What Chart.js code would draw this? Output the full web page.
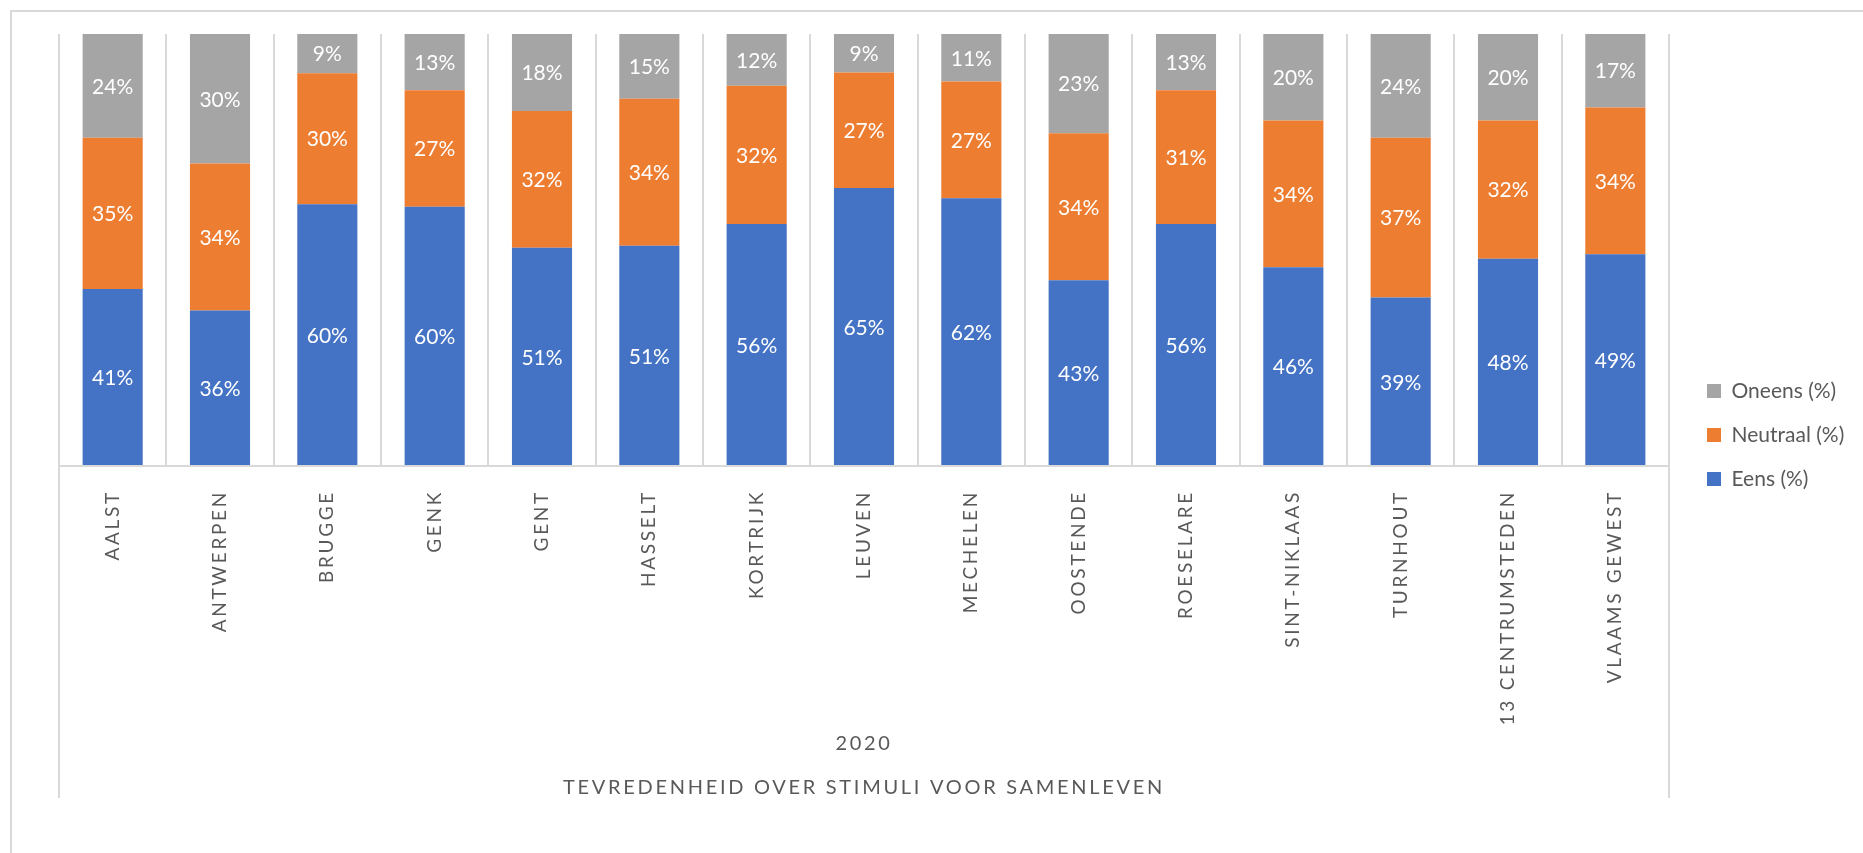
<!DOCTYPE html>
<html>
<head>
<meta charset="utf-8">
<script src="https://cdn.jsdelivr.net/npm/chart.js@4.4.1/dist/chart.umd.min.js"></script>
<style>
  html, body { margin: 0; padding: 0; background: #fff; overflow: hidden; }
  #frame { position: absolute; left: 10px; top: 10px; width: 1900px; height: 900px; border: 2px solid #d9d9d9; box-sizing: border-box; }
  #wrap { position: absolute; left: 0; top: 0; width: 1863px; height: 853px; }
</style>
</head>
<body>
<div id="frame"></div>
<div id="wrap"><canvas id="chart"></canvas></div>
<script>
const categories = [
  'AALST', 'ANTWERPEN', 'BRUGGE', 'GENK', 'GENT', 'HASSELT', 'KORTRIJK', 'LEUVEN',
  'MECHELEN', 'OOSTENDE', 'ROESELARE', 'SINT-NIKLAAS', 'TURNHOUT', '13 CENTRUMSTEDEN', 'VLAAMS GEWEST'
]
const eens = [41, 36, 60, 60, 51, 51, 56, 65, 62, 43, 56, 46, 39, 48, 49]
const neutraal = [35, 34, 30, 27, 32, 34, 32, 27, 27, 34, 31, 34, 37, 32, 34]
const oneens = [24, 30, 9, 13, 18, 15, 12, 9, 11, 23, 13, 20, 24, 20, 17]
const seriesNames = ['Eens (%)', 'Neutraal (%)', 'Oneens (%)']
const seriesColors = ['#4472C4', '#ED7D31', '#A5A5A5']
const axisTitle = ['2020', 'TEVREDENHEID OVER STIMULI VOOR SAMENLEVEN']

const textGray = '#595959'
const lineGray = '#d9d9d9'

// 100% stacked: every column is scaled to its own total
const totals = categories.map((_, i) => eens[i] + neutraal[i] + oneens[i])
const toShare = (values) => values.map((v, i) => (v / totals[i]) * 100)

function buildDataset(values, index) {
  return {
    label: seriesNames[index],
    data: toShare(values),
    rawData: values,
    backgroundColor: seriesColors[index],
    borderWidth: 0,
    barPercentage: 0.56,
    categoryPercentage: 1
  }
}

const segmentLabels = {
  id: 'segmentLabels',
  afterDatasetsDraw(chart) {
    const { ctx } = chart
    ctx.save()
    ctx.letterSpacing = '0px'
    ctx.font = '21px Lato'
    ctx.fillStyle = '#ffffff'
    ctx.textAlign = 'center'
    ctx.textBaseline = 'middle'
    chart.data.datasets.forEach((dataset, di) => {
      chart.getDatasetMeta(di).data.forEach((bar, i) => {
        const { x, y, base } = bar.getProps(['x', 'y', 'base'], true)
        ctx.fillText(`${dataset.rawData[i]}%`, x, (y + base) / 2 + 1)
      })
    })
    ctx.restore()
    // category labels and axis title are drawn after the datasets (z = 1)
    ctx.letterSpacing = '2.7px'
  },
  afterDraw(chart) {
    const { ctx } = chart
    ctx.letterSpacing = '0px'
    const xScale = chart.scales.x
    ctx.save()
    ctx.strokeStyle = lineGray
    ctx.lineWidth = 2
    ctx.beginPath()
    ;[xScale.left, xScale.right].forEach((x) => {
      ctx.moveTo(x, xScale.top)
      ctx.lineTo(x, xScale.bottom - 38)
    })
    ctx.stroke()
    ctx.restore()
  }
}

Chart.defaults.font.family = 'Lato'
Chart.defaults.color = textGray

new Chart(document.getElementById('chart'), {
  type: 'bar',
  data: {
    labels: categories,
    datasets: [buildDataset(eens, 0), buildDataset(neutraal, 1), buildDataset(oneens, 2)]
  },
  plugins: [segmentLabels],
  options: {
    responsive: true,
    maintainAspectRatio: false,
    animation: false,
    layout: { padding: { left: 59, top: 34, right: 11, bottom: 17 } },
    plugins: {
      tooltip: { enabled: false },
      legend: {
        position: 'right',
        reverse: true,
        maxWidth: 168,
        labels: {
          boxWidth: 14,
          boxHeight: 14,
          padding: 23,
          color: textGray,
          font: { size: 21 }
        }
      }
    },
    scales: {
      x: {
        stacked: true,
        afterFit: (scale) => { scale.height = 370 },
        grid: { z: 1, color: lineGray, lineWidth: 2, drawTicks: false },
        border: { z: 1, color: lineGray, width: 2 },
        ticks: {
          z: 1,
          autoSkip: false,
          minRotation: 90,
          maxRotation: 90,
          padding: 24,
          color: textGray,
          font: { size: 19 }
        },
        title: {
          display: true,
          text: axisTitle,
          color: textGray,
          font: { size: 20, lineHeight: 2.2 },
          padding: { top: 0, bottom: 26 }
        }
      },
      y: {
        stacked: true,
        position: 'right',
        min: 0,
        max: 100,
        afterFit: (scale) => { scale.width = 15 },
        grid: { display: false },
        border: { display: false },
        ticks: { display: false }
      }
    }
  }
})
</script>
</body>
</html>
